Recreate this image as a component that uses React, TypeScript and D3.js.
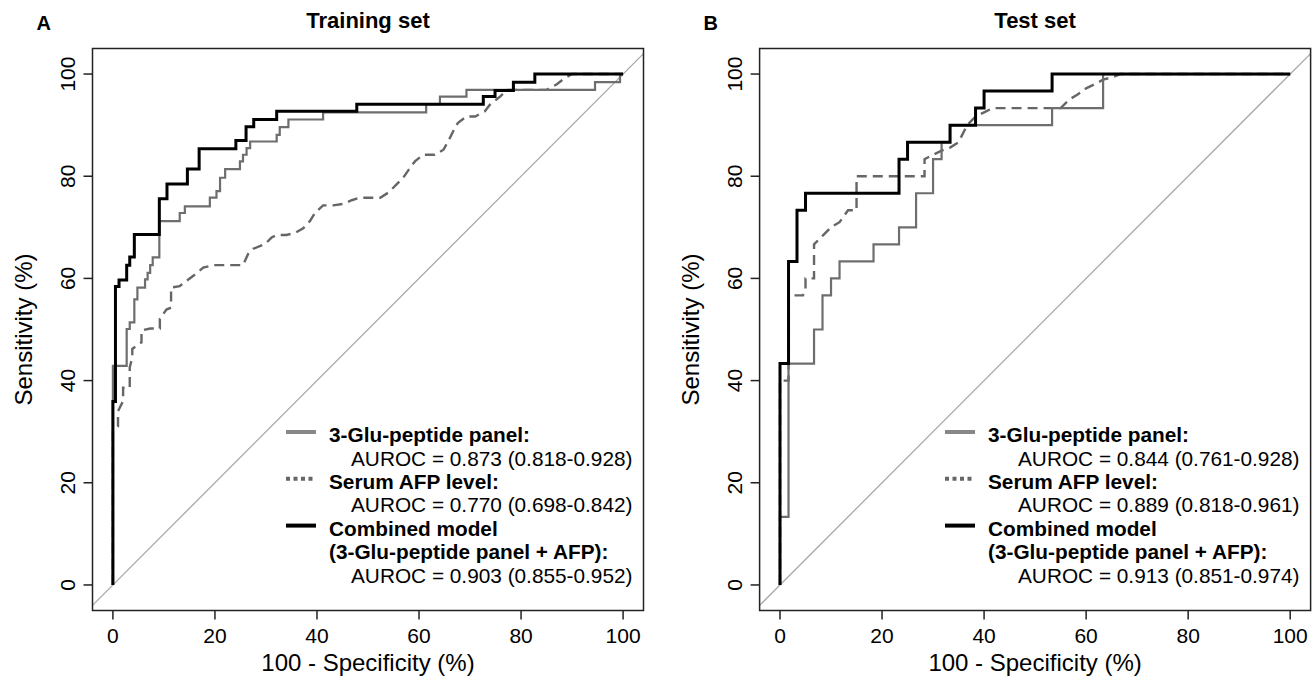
import React from "react";
import * as d3 from "d3";

// ---- data (x = 100 - specificity %, y = sensitivity %) ----
const trainGlu: [number, number][] = [
  [0, 0], [0, 42.9], [2.7, 50.1], [3.3, 51.4], [4.2, 55.9], [4.8, 58.2], [6.3, 59.8], [6.8, 61.1],
  [7.3, 62.6], [7.8, 64.1], [9.1, 71.2], [13.1, 72.8], [14.1, 74.1], [19.0, 75.8], [20.3, 77.1],
  [21.0, 79.7], [22.0, 81.4], [24.9, 82.9], [25.5, 84.2], [26.2, 85.5], [26.9, 86.8], [32.1, 88.1],
  [32.7, 89.6], [34.4, 91.1], [41.2, 92.5], [61.4, 94.1], [64.1, 95.6], [69.3, 96.9], [94.5, 98.4],
  [99.4, 100], [100, 100],
];
const trainComb: [number, number][] = [
  [0, 0], [0, 35.9], [0.5, 58.4], [1.2, 59.7], [2.7, 62.6], [3.3, 64.2], [4.2, 68.6], [9.1, 75.6],
  [10.6, 78.5], [14.6, 81.4], [16.9, 85.4], [24.1, 87.0], [26.1, 89.7], [27.6, 91.1], [32.1, 92.7],
  [47.8, 94.1], [72.6, 95.6], [74.9, 96.8], [78.5, 98.4], [82.7, 100], [100, 100],
];
const trainAfp: [number, number][] = [
  [0, 0], [0, 30], [1.0, 31], [1.0, 34], [2.0, 36], [2.0, 38.6], [3.3, 38.6], [3.3, 42.6], [3.8, 44.5],
  [3.8, 46.2], [5.6, 47.5], [5.6, 49.8], [7.3, 50.2], [9.2, 50.2], [9.2, 52.1], [10.5, 53.9],
  [11.4, 54.3], [11.4, 58.2], [13.1, 58.5], [14.4, 59.5], [16.4, 61], [17.7, 62.1], [19.7, 62.6],
  [25.5, 62.6], [26.5, 64.8], [27.5, 65.8], [29.8, 66.7], [31.1, 68], [32.1, 68.5], [34, 68.5],
  [35.7, 68.9], [37.3, 69.8], [38.6, 71.2], [39.6, 72.8], [41.2, 74.3], [43.2, 74.3], [45.2, 74.6],
  [46.8, 75.3], [48.4, 75.8], [52.4, 75.8], [54, 76.8], [55.6, 78.4], [56.9, 79.7], [58.2, 81.6],
  [59.2, 82.9], [60.8, 84.2], [63.1, 84.2], [64.8, 85.2], [65.7, 86.8], [66.7, 88.8], [67.6, 90.4],
  [69.3, 91.7], [71, 91.7], [72.9, 92.7], [73.9, 94], [75.9, 95.6], [77.2, 96.9], [85, 96.9],
  [87, 98], [88.3, 99], [90, 100], [100, 100],
];

const testGlu: [number, number][] = [
  [0, 0], [0, 13.33], [1.67, 43.33], [6.67, 50], [8.33, 56.67], [10, 60], [11.67, 63.33],
  [18.33, 66.67], [23.33, 70], [26.67, 76.67], [30, 83.33], [31.67, 86.67], [33.33, 90],
  [53.33, 93.33], [63.33, 100], [100, 100],
];
const testComb: [number, number][] = [
  [0, 0], [0, 43.33], [1.67, 63.33], [3.33, 73.33], [5, 76.67], [23.33, 83.33], [25, 86.67],
  [33.33, 90], [38.33, 93.33], [40, 96.67], [53.33, 100], [100, 100],
];
const testAfp: [number, number][] = [
  [0, 0], [0, 40], [1.67, 40], [1.67, 56.67], [4.5, 56.67], [5, 58], [5, 60], [6.67, 60],
  [6.67, 66.67], [8.33, 68.33], [10, 70], [11.67, 71], [13.33, 73.33], [15, 73.33], [15, 80],
  [28.33, 80], [28.33, 83.33], [30, 84.2], [31.67, 85], [33.33, 85.6], [35, 86.67], [36.67, 90],
  [38.33, 91.67], [40, 92.5], [41.67, 93.33], [55, 93.33], [56.67, 95], [58.33, 96], [60, 97.2],
  [61.67, 98], [63.33, 98.9], [65.5, 99.5], [66.67, 100], [100, 100],
];

const ticks = [0, 20, 40, 60, 80, 100];
const trainLegend = [
  "3-Glu-peptide panel:", "AUROC = 0.873 (0.818-0.928)", "Serum AFP level:",
  "AUROC = 0.770 (0.698-0.842)", "Combined model", "(3-Glu-peptide panel + AFP):",
  "AUROC = 0.903 (0.855-0.952)",
];
const testLegend = [
  "3-Glu-peptide panel:", "AUROC = 0.844 (0.761-0.928)", "Serum AFP level:",
  "AUROC = 0.889 (0.818-0.961)", "Combined model", "(3-Glu-peptide panel + AFP):",
  "AUROC = 0.913 (0.851-0.974)",
];

const FONT = "'Liberation Sans', Arial, Helvetica, sans-serif";

type PanelProps = {
  left: number;
  letter: string;
  title: string;
  glu: [number, number][];
  afp: [number, number][];
  comb: [number, number][];
  legend: string[];
  legX: number;
  legSubX: number;
};

function Panel({ left, letter, title, glu, afp, comb, legend, legX, legSubX }: PanelProps) {
  const W = 551;
  const top = 48.5;
  const bottom = 610.5;
  const x = d3.scaleLinear().domain([-4, 104]).range([left, left + W]);
  const y = d3.scaleLinear().domain([-5, 105]).range([bottom, top]);
  const step = d3.line<[number, number]>().x((d) => x(d[0])).y((d) => y(d[1])).curve(d3.curveStepAfter);
  const lin = d3.line<[number, number]>().x((d) => x(d[0])).y((d) => y(d[1]));
  const cx = left + W / 2;
  const rowY = (i: number) => 435 + i * 23.4;
  const bold = [true, false, true, false, true, true, false];
  return (
    <g>
      <text x={left - 56} y={30} fontFamily={FONT} fontWeight="bold" fontSize={20}>{letter}</text>
      <text x={cx} y={28} fontFamily={FONT} fontWeight="bold" fontSize={22} textAnchor="middle">{title}</text>
      {/* diagonal */}
      <line x1={x(-4)} y1={y(-4)} x2={x(104)} y2={y(104)} stroke="#a8a8a8" strokeWidth={1.3} />
      {/* curves */}
      <path d={lin(afp) || ""} fill="none" stroke="#666" strokeWidth={2.4} strokeDasharray="10,6" />
      <path d={step(glu) || ""} fill="none" stroke="#6e6e6e" strokeWidth={2.2} />
      <path d={step(comb) || ""} fill="none" stroke="#000" strokeWidth={3} />
      {/* box */}
      <rect x={left} y={top} width={W} height={bottom - top} fill="none" stroke="#222" strokeWidth={1.5} />
      {/* x axis */}
      {ticks.map((t) => (
        <g key={"x" + t}>
          <line x1={x(t)} x2={x(t)} y1={bottom} y2={bottom + 9} stroke="#222" strokeWidth={1.5} />
          <text x={x(t)} y={bottom + 32} fontFamily={FONT} fontSize={21} textAnchor="middle">{t}</text>
        </g>
      ))}
      <text x={cx} y={bottom + 60} fontFamily={FONT} fontSize={24} textAnchor="middle">100 - Specificity (%)</text>
      {/* y axis */}
      {ticks.map((t) => (
        <g key={"y" + t}>
          <line x1={left} x2={left - 9} y1={y(t)} y2={y(t)} stroke="#222" strokeWidth={1.5} />
          <text transform={`translate(${left - 18},${y(t)}) rotate(-90)`} fontFamily={FONT} fontSize={21} textAnchor="middle">{t}</text>
        </g>
      ))}
      <text transform={`translate(${left - 61},${(top + bottom) / 2}) rotate(-90)`} fontFamily={FONT} fontSize={24} textAnchor="middle">Sensitivity (%)</text>
      {/* legend */}
      <line x1={legX - 43} x2={legX - 13} y1={rowY(0) - 3} y2={rowY(0) - 3} stroke="#888" strokeWidth={4} />
      <line x1={legX - 43} x2={legX - 13} y1={rowY(2) - 3} y2={rowY(2) - 3} stroke="#666" strokeWidth={4} strokeDasharray="4,3.5" />
      <line x1={legX - 43} x2={legX - 13} y1={rowY(4) - 3} y2={rowY(4) - 3} stroke="#000" strokeWidth={4} />
      {legend.map((s, i) => (
        <text key={i} x={bold[i] ? legX : legSubX} y={rowY(i)} dy="0.35em" fontFamily={FONT} fontSize={20.8} fontWeight={bold[i] ? "bold" : "normal"}>{s}</text>
      ))}
    </g>
  );
}

export default function App() {
  return (
    <svg width={1314} height={696} style={{ position: "absolute", left: 0, top: 0, background: "#fff" }}>
      <rect width={1314} height={696} fill="#fff" />
      <Panel left={92.5} letter="A" title="Training set" glu={trainGlu} afp={trainAfp} comb={trainComb}
        legend={trainLegend} legX={329} legSubX={351} />
      <Panel left={759.6} letter="B" title="Test set" glu={testGlu} afp={testAfp} comb={testComb}
        legend={testLegend} legX={988} legSubX={1018} />
    </svg>
  );
}
